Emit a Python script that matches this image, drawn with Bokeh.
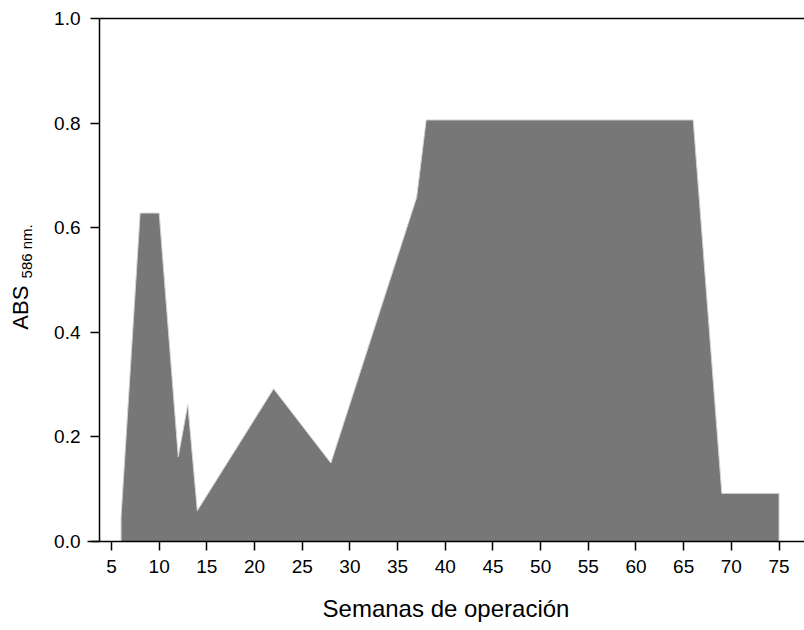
import math
from bokeh.plotting import figure
from bokeh.models import Range1d, FixedTicker, NumeralTickFormatter, Label, LinearAxis
from bokeh.embed import file_html
from bokeh.resources import INLINE

# Data
weeks = [6, 6, 8, 10, 12, 13, 14, 22, 28, 37, 38, 66, 69, 75, 75]
abs586 = [0.0, 0.046, 0.628, 0.628, 0.162, 0.262, 0.059, 0.292, 0.150, 0.658, 0.806, 0.806, 0.092, 0.092, 0.0]
x_ticks = [5, 10, 15, 20, 25, 30, 35, 40, 45, 50, 55, 60, 65, 70, 75]
y_ticks = [0.0, 0.2, 0.4, 0.6, 0.8, 1.0]

FONT = "Liberation Sans"
X0 = 3.742      # x where the y axis sits
XEND = 77.67
Y0, Y1 = 0.0, 1.0

# the frame covers the whole canvas; axes are pinned at fixed locations
p = figure(width=804, height=630, output_backend="svg", toolbar_location=None,
           x_range=Range1d(-6.640, XEND), y_range=Range1d(-0.1702, 1.0344),
           x_axis_location=None, y_axis_location=None,
           min_border_left=0, min_border_top=0, min_border_bottom=0, min_border_right=0)
p.outline_line_color = None
p.grid.visible = False
p.background_fill_color = "white"
p.border_fill_color = "white"

p.patch(weeks, abs586, fill_color="#777777", line_color="#d4d4d4", line_width=1)

yax = LinearAxis(fixed_location=X0, bounds=(Y0, Y1))
xax = LinearAxis(fixed_location=Y0, bounds=(2.5, XEND))
top = LinearAxis(fixed_location=Y1, bounds=(X0, XEND), ticker=FixedTicker(ticks=[]),
                 major_tick_line_color=None, minor_tick_line_color=None,
                 axis_line_color="black", axis_line_width=1.5)
p.add_layout(yax, "left")
p.add_layout(xax, "below")
p.add_layout(top, "above")

for ax in (xax, yax):
    ax.axis_line_color = "black"
    ax.axis_line_width = 1.5
    ax.major_tick_line_color = "black"
    ax.major_tick_line_width = 1.5
    ax.minor_tick_line_color = None
    ax.major_tick_out = 9
    ax.major_tick_in = 0
    ax.major_label_text_font = FONT
    ax.major_label_text_font_size = "19px"
    ax.major_label_text_color = "black"

xax.ticker = FixedTicker(ticks=x_ticks)
yax.ticker = FixedTicker(ticks=y_ticks)
yax.formatter = NumeralTickFormatter(format="0.0")
xax.major_label_standoff = 10
yax.major_label_standoff = 10

xax.axis_label = "Semanas de operación"
xax.axis_label_text_font = FONT
xax.axis_label_text_font_style = "normal"
xax.axis_label_text_font_size = "24px"
xax.axis_label_text_color = "black"
xax.axis_label_standoff = 18

p.add_layout(Label(x=-4.50, y=0.405, text="ABS", angle=math.pi / 2,
                   text_align="left", text_baseline="middle",
                   text_font=FONT, text_font_size="22px", text_color="black"))
p.add_layout(Label(x=-3.90, y=0.503, text="586 nm.", angle=math.pi / 2,
                   text_align="left", text_baseline="middle",
                   text_font=FONT, text_font_size="15px", text_color="black"))

open("out.html", "w").write(file_html(p, INLINE))
